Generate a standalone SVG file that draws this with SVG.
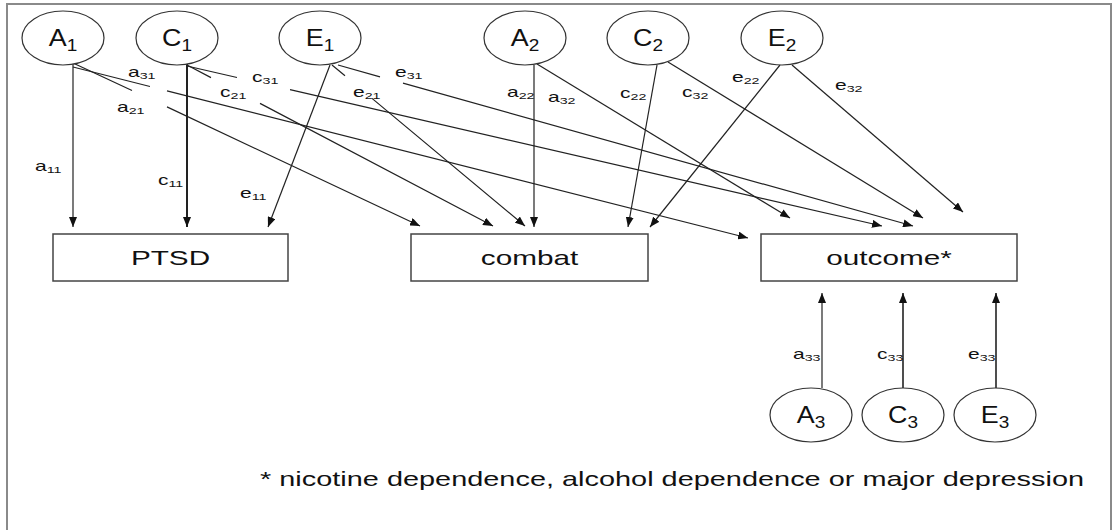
<svg xmlns="http://www.w3.org/2000/svg" width="1113" height="530" viewBox="0 0 1113 530">
<style>
.lbl{font-family:"Liberation Sans",Arial,Helvetica,sans-serif;fill:#111}
.node{font-size:24px}
.nsub{font-size:17px}
.box{font-size:20.5px}
.el{font-size:14px}
.esub{font-size:9.5px}
.circ{fill:#fff;stroke:#333;stroke-width:1.2}
.rect{fill:#fff;stroke:#444;stroke-width:1.5}
.con{fill:none;stroke:#222;stroke-width:1.2;marker-end:url(#ah)}
.thick{stroke-width:2}
</style>
<defs>
<marker id="ah" markerUnits="userSpaceOnUse" viewBox="0 0 10 8" markerWidth="10" markerHeight="8" refX="10" refY="4" orient="auto">
<path d="M0,0 L10,4 L0,8 z" fill="#111"/>
</marker>
</defs>
<rect x="0" y="0" width="1113" height="530" fill="#fff"/>
<rect x="7" y="4" width="1104" height="560" fill="none" stroke="#8a8a8a" stroke-width="2"/>

<g id="connectors">
<path class="con" d="M73,64 L73,227"/>
<path class="con thick" d="M187,64 L187,227"/>
<path class="con" d="M330,65 L268,227"/>
<path class="con" d="M73,63 L132,90.5 M167,106.9 L420,226"/>
<path class="con" d="M187,65 L211,77.6 M260,103.4 L493,226"/>
<path class="con" d="M332,65 L345,75.8 M372,98.4 L525,226"/>
<path class="con" d="M534,65 L534,227"/>
<path class="con" d="M657,65 L628,227"/>
<path class="con" d="M780,65 L650,227"/>
<path class="con" d="M73,67 L150,86.5 M167,90.8 L748,238"/>
<path class="con" d="M187,66 L237,77.5 M290,89.7 L882,226"/>
<path class="con" d="M338,65 L380,76.8 M403,83.2 L913,226"/>
<path class="con" d="M537,64 L790,218"/>
<path class="con" d="M668,62 L923,218"/>
<path class="con" d="M792,65 L963,212"/>
<path class="con" d="M822,388 L822,293"/>
<path class="con" d="M903,388 L903,293" style="stroke-width:1.6"/>
<path class="con" d="M996,388 L996,293" style="stroke-width:1.6"/>
</g>

<g id="edge-labels">
<text class="lbl el" transform="translate(35,171) scale(1.5,1)">a<tspan class="esub" dy="2">11</tspan></text>
<text class="lbl el" transform="translate(158,185) scale(1.5,1)">c<tspan class="esub" dy="2">11</tspan></text>
<text class="lbl el" transform="translate(240,198) scale(1.5,1)">e<tspan class="esub" dy="2">11</tspan></text>
<text class="lbl el" transform="translate(128,77) scale(1.5,1)">a<tspan class="esub" dy="2">31</tspan></text>
<text class="lbl el" transform="translate(117,112) scale(1.5,1)">a<tspan class="esub" dy="2">21</tspan></text>
<text class="lbl el" transform="translate(252,82) scale(1.5,1)">c<tspan class="esub" dy="2">31</tspan></text>
<text class="lbl el" transform="translate(220,97) scale(1.5,1)">c<tspan class="esub" dy="2">21</tspan></text>
<text class="lbl el" transform="translate(353,97) scale(1.5,1)">e<tspan class="esub" dy="2">21</tspan></text>
<text class="lbl el" transform="translate(395,77) scale(1.5,1)">e<tspan class="esub" dy="2">31</tspan></text>
<text class="lbl el" transform="translate(507,97) scale(1.5,1)">a<tspan class="esub" dy="2">22</tspan></text>
<text class="lbl el" transform="translate(548,102) scale(1.5,1)">a<tspan class="esub" dy="2">32</tspan></text>
<text class="lbl el" transform="translate(620,98) scale(1.5,1)">c<tspan class="esub" dy="2">22</tspan></text>
<text class="lbl el" transform="translate(682,97) scale(1.5,1)">c<tspan class="esub" dy="2">32</tspan></text>
<text class="lbl el" transform="translate(732,82) scale(1.5,1)">e<tspan class="esub" dy="2">22</tspan></text>
<text class="lbl el" transform="translate(835,90) scale(1.5,1)">e<tspan class="esub" dy="2">32</tspan></text>
<text class="lbl el" transform="translate(793,359) scale(1.5,1)">a<tspan class="esub" dy="2">33</tspan></text>
<text class="lbl el" transform="translate(877,359) scale(1.5,1)">c<tspan class="esub" dy="2">33</tspan></text>
<text class="lbl el" transform="translate(968,359) scale(1.5,1)">e<tspan class="esub" dy="2">33</tspan></text>
</g>

<g id="A1"><ellipse class="circ" cx="63" cy="38" rx="41" ry="27"/><text class="lbl node" text-anchor="middle" transform="translate(63,46) scale(1.12,1)">A<tspan class="nsub" dy="5">1</tspan></text></g>
<g id="C1"><ellipse class="circ" cx="177" cy="38" rx="41" ry="27"/><text class="lbl node" text-anchor="middle" transform="translate(177,46) scale(1.12,1)">C<tspan class="nsub" dy="5">1</tspan></text></g>
<g id="E1"><ellipse class="circ" cx="320" cy="38" rx="41" ry="27"/><text class="lbl node" text-anchor="middle" transform="translate(320,46) scale(1.12,1)">E<tspan class="nsub" dy="5">1</tspan></text></g>
<g id="A2"><ellipse class="circ" cx="525" cy="38" rx="41" ry="27"/><text class="lbl node" text-anchor="middle" transform="translate(525,46) scale(1.12,1)">A<tspan class="nsub" dy="5">2</tspan></text></g>
<g id="C2"><ellipse class="circ" cx="648" cy="38" rx="41" ry="27"/><text class="lbl node" text-anchor="middle" transform="translate(648,46) scale(1.12,1)">C<tspan class="nsub" dy="5">2</tspan></text></g>
<g id="E2"><ellipse class="circ" cx="782" cy="38" rx="41" ry="27"/><text class="lbl node" text-anchor="middle" transform="translate(782,46) scale(1.12,1)">E<tspan class="nsub" dy="5">2</tspan></text></g>
<g id="A3"><ellipse class="circ" cx="811" cy="415" rx="41" ry="27"/><text class="lbl node" text-anchor="middle" transform="translate(811,423) scale(1.12,1)">A<tspan class="nsub" dy="5">3</tspan></text></g>
<g id="C3"><ellipse class="circ" cx="903" cy="415" rx="41" ry="27"/><text class="lbl node" text-anchor="middle" transform="translate(903,423) scale(1.12,1)">C<tspan class="nsub" dy="5">3</tspan></text></g>
<g id="E3"><ellipse class="circ" cx="995" cy="415" rx="41" ry="27"/><text class="lbl node" text-anchor="middle" transform="translate(995,423) scale(1.12,1)">E<tspan class="nsub" dy="5">3</tspan></text></g>

<g id="PTSD"><rect class="rect" x="53" y="234" width="235" height="47"/><text class="lbl box" text-anchor="middle" transform="translate(170.5,265) scale(1.45,1)">PTSD</text></g>
<g id="combat"><rect class="rect" x="411" y="234" width="237" height="47"/><text class="lbl box" text-anchor="middle" transform="translate(529.5,265) scale(1.45,1)">combat</text></g>
<g id="outcome"><rect class="rect" x="761" y="234" width="256" height="47"/><text class="lbl box" text-anchor="middle" transform="translate(889,265) scale(1.45,1)">outcome*</text></g>

<text class="lbl box" transform="translate(260,486) scale(1.41,1)">* nicotine dependence, alcohol dependence or major depression</text>
</svg>
